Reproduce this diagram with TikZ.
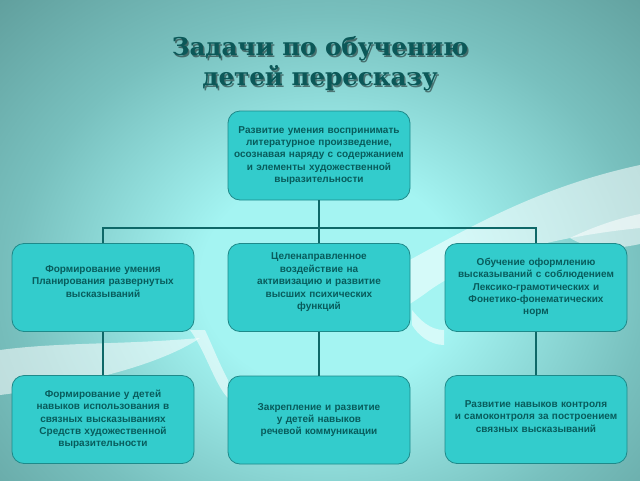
\documentclass[tikz,border=0pt]{standalone}
\usepackage{fontspec}
\newfontfamily\titlefont{DejaVu Serif}
\newfontfamily\boxfont{Liberation Sans}
\definecolor{boxfill}{HTML}{33CCCC}
\definecolor{boxline}{HTML}{1E8A8A}
\definecolor{boxtext}{HTML}{085C5C}
\definecolor{linec}{HTML}{0E6868}
\definecolor{titlec}{HTML}{0B5858}
\definecolor{bgin}{HTML}{A4F4F2}
\definecolor{bgmid}{HTML}{78C0BE}
\definecolor{bgout}{HTML}{5A9694}
\pgfdeclareradialshading{bgshade}{\pgfpoint{0bp}{0bp}}{color(0bp)=(bgin); color(9bp)=(bgin); color(22bp)=(bgmid); color(36bp)=(bgout); color(90bp)=(bgout)}
\tikzset{
  taskbox/.style={draw=boxline, line width=0.8pt, fill=boxfill, rounded corners=12pt,
    minimum width=182pt, minimum height=88pt, text width=180pt, align=center, inner sep=0pt,
    font=\boxfont\bfseries\fontsize{10}{12.4}\selectfont, text=boxtext},
  link/.style={draw=linec, line width=1.6pt},
  titletext/.style={font=\titlefont\bfseries\fontsize{24.5}{30}\selectfont, align=center},
  swoosh/.style={fill=white, opacity=0.55, draw=none}
}
\begin{document}
\begin{tikzpicture}[x=1pt,y=-1pt]
\useasboundingbox (0,0) rectangle (640,480);
\begin{scope}
  \clip (0,0) rectangle (640,480);
  \shade[shading=bgshade] (-30,-20) rectangle (690,580);
  % pale swoosh bands
  \path[swoosh] (330,300) .. controls (420,262) and (500,195) .. (640,165)
     -- (640,228) .. controls (560,236) and (480,255) .. (430,290)
     .. controls (390,320) and (360,330) .. (330,300) -- cycle;
  \path[swoosh] (0,350) .. controls (60,342) and (120,345) .. (200,338)
     .. controls (160,365) and (80,385) .. (0,395) -- cycle;
  \path[swoosh] (190,330) .. controls (205,350) and (215,385) .. (228,398)
     -- (228,380) .. controls (220,365) and (212,345) .. (205,330) -- cycle;
  \path[swoosh] (412,310) .. controls (420,320) and (430,330) .. (444,330)
     -- (444,345) .. controls (430,345) and (418,335) .. (412,325) -- cycle;
  \path[swoosh] (570,238) .. controls (595,226) and (620,218) .. (640,214)
     -- (640,244) .. controls (612,250) and (590,250) .. (570,238) -- cycle;
\end{scope}

% title
\node[titletext, text=black, opacity=0.45] (titleshadow) at (321.5,65.5)
  {Задачи по обучению\\детей пересказу};
\node[titletext, text=titlec] (title) at (320,64)
  {Задачи по обучению\\детей пересказу};

% boxes
\node[taskbox, minimum height=89pt] (top) at (319,155.5)
  {Развитие умения воспринимать\\литературное произведение,\\осознавая наряду с содержанием\\и элементы художественной\\выразительности};

\node[taskbox] (m1) at (103,287.5)
  {Формирование умения\\Планирования развернутых\\высказываний\\[0pt]\mbox{}};
\node[taskbox] (m2) at (319,287.5)
  {Целенаправленное\\воздействие на\\активизацию и развитие\\высших психических\\функций\\[0pt]\mbox{}};
\node[taskbox] (m3) at (536,287.5)
  {Обучение оформлению\\высказываний с соблюдением\\Лексико-грамотических и\\Фонетико-фонематических\\норм};

\node[taskbox] (b1) at (103,419.5)
  {Формирование у детей\\навыков использования в\\связных высказываниях\\Средств художественной\\выразительности};
\node[taskbox] (b2) at (319,420)
  {Закрепление и развитие\\у детей навыков\\речевой коммуникации};
\node[taskbox] (b3) at (536,419.5)
  {Развитие навыков контроля\\и самоконтроля за построением\\связных высказываний\\[-6pt]\mbox{}};

% connectors
\coordinate (bus) at (0,228);
\draw[link] (top.south) -- (m2.north);
\draw[link] (m1.north) -- (m1.north |- bus) -- (m3.north |- bus) -- (m3.north);
\draw[link] (m1.south) -- (b1.north);
\draw[link] (m2.south) -- (b2.north);
\draw[link] (m3.south) -- (b3.north);
\end{tikzpicture}
\end{document}
